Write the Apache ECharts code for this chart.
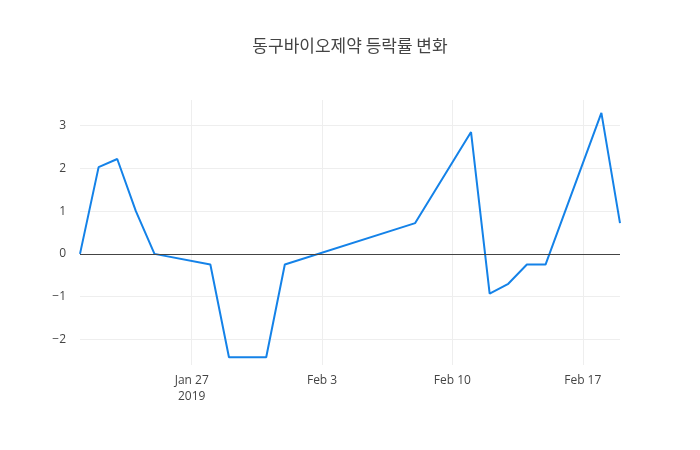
<!DOCTYPE html>
<html><head><meta charset="utf-8">
<script src="https://cdn.jsdelivr.net/npm/echarts@6/dist/echarts.min.js"></script>
<style>html,body{margin:0;padding:0;background:#fff}#c{width:700px;height:450px}</style>
</head><body><div id="c"></div>
<script>
const dates = ['2019-01-21','2019-01-22','2019-01-23','2019-01-24','2019-01-25','2019-01-28','2019-01-29','2019-01-30','2019-01-31','2019-02-01','2019-02-08','2019-02-11','2019-02-12','2019-02-13','2019-02-14','2019-02-15','2019-02-18','2019-02-19'];
const values = [0, 2.03, 2.22, 1.0, 0, -0.25, -2.42, -2.42, -2.42, -0.25, 0.72, 2.85, -0.93, -0.7, -0.25, -0.25, 3.3, 0.72];
const xTicks = ['2019-01-27','2019-02-03','2019-02-10','2019-02-17'];
const xTickLabels = ['Jan 27\n2019','Feb 3','Feb 10','Feb 17'];
const yTicks = [-2,-1,0,1,2,3];
const title = '동구바이오제약 등락률 변화';

const base = Date.UTC(2019,0,20);
const day = d => Math.round((new Date(d + 'T00:00:00Z').getTime() - base) / 86400000);
const xt = xTicks.map(day);
const chart = echarts.init(document.getElementById('c'));
chart.setOption({
  animation:false,
  title:{text:title,left:'center',top:32,textStyle:{fontFamily:'Noto Sans CJK KR',fontSize:17,fontWeight:'normal',color:'#444'}},
  grid:{left:80,right:80,top:100,bottom:85},
  xAxis:{type:'value',min:day(dates[0]),max:day(dates[dates.length-1]),
    axisLine:{show:false},
    axisTick:{show:false,customValues:xt},
    axisLabel:{customValues:xt,color:'#444',fontSize:12,fontFamily:'Open Sans',lineHeight:16,
      formatter:v=>{const i=xt.indexOf(v);return i>=0?xTickLabels[i]:'';}},
    splitLine:{show:true,lineStyle:{color:'#eee'}}},
  yAxis:{type:'value',min:-2.6,max:3.6,
    axisLine:{show:false},axisTick:{show:false,customValues:yTicks},
    axisLabel:{customValues:yTicks,color:'#444',fontSize:12,fontFamily:'Open Sans',margin:14,
      formatter:v=>(v<0?'\u2212'+Math.abs(v):String(v))},
    splitLine:{show:true,lineStyle:{color:'#eee'}}},
  series:[{type:'line',data:dates.map((d,i)=>[day(d),values[i]]),symbol:'none',
    lineStyle:{color:'#1482e8',width:2},
    markLine:{silent:true,symbol:'none',label:{show:false},lineStyle:{color:'#444',width:1,type:'solid'},data:[{yAxis:0}]}}]
});
</script></body></html>
